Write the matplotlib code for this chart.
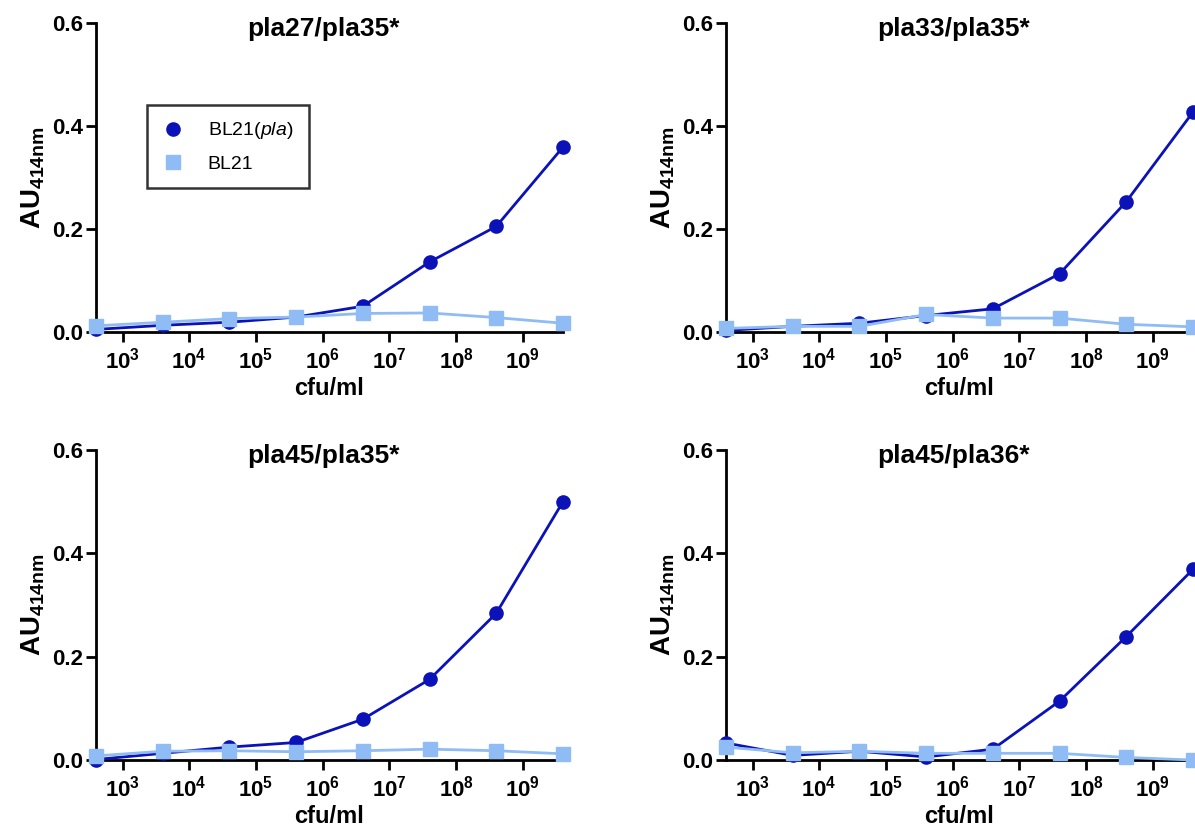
import matplotlib
matplotlib.use('Agg')
from matplotlib import pyplot as plt

plt.rcParams['font.family'] = ['Liberation Sans', 'DejaVu Sans']
plt.rcParams['mathtext.fontset'] = 'custom'
plt.rcParams['mathtext.rm'] = 'Liberation Sans'
plt.rcParams['mathtext.bf'] = 'Liberation Sans:bold'
plt.rcParams['mathtext.it'] = 'Liberation Sans:italic'

# cfu/ml dilution series
cfu = [4e2, 4e3, 4e4, 4e5, 4e6, 4e7, 4e8, 4e9]

titles = ['pla27/pla35*', 'pla33/pla35*', 'pla45/pla35*', 'pla45/pla36*']

# BL21(pla) absorbance
pla_27_35 = [0.005, 0.013, 0.019, 0.029, 0.050, 0.136, 0.205, 0.359]
pla_33_35 = [0.003, 0.011, 0.017, 0.032, 0.045, 0.113, 0.253, 0.427]
pla_45_35 = [0.001, 0.013, 0.025, 0.034, 0.079, 0.156, 0.284, 0.500]
pla_45_36 = [0.033, 0.009, 0.017, 0.006, 0.021, 0.114, 0.239, 0.369]

# BL21 control absorbance
ctl_27_35 = [0.012, 0.019, 0.026, 0.029, 0.036, 0.037, 0.028, 0.017]
ctl_33_35 = [0.007, 0.011, 0.011, 0.034, 0.027, 0.027, 0.015, 0.010]
ctl_45_35 = [0.008, 0.017, 0.018, 0.016, 0.018, 0.021, 0.018, 0.012]
ctl_45_36 = [0.025, 0.014, 0.017, 0.013, 0.013, 0.013, 0.005, 0.000]

pla_series = [pla_27_35, pla_33_35, pla_45_35, pla_45_36]
ctl_series = [ctl_27_35, ctl_33_35, ctl_45_35, ctl_45_36]

x_ticks = [1e3, 1e4, 1e5, 1e6, 1e7, 1e8, 1e9]
x_ticklabels = [r'$\mathbf{10^{3}}$', r'$\mathbf{10^{4}}$', r'$\mathbf{10^{5}}$',
                r'$\mathbf{10^{6}}$', r'$\mathbf{10^{7}}$', r'$\mathbf{10^{8}}$',
                r'$\mathbf{10^{9}}$']
y_ticks = [0.0, 0.2, 0.4, 0.6]
y_ticklabels = ['0.0', '0.2', '0.4', '0.6']

dark = '#0a12b8'
light = '#8fbcf4'

fig = plt.figure(figsize=(11.95, 8.3), dpi=100)
positions = [
    [0.0803, 0.600, 0.3908, 0.3723],
    [0.6075, 0.600, 0.3908, 0.3723],
    [0.0803, 0.0843, 0.3908, 0.3735],
    [0.6075, 0.0843, 0.3908, 0.3735],
]

for i in range(4):
    ax = fig.add_axes(positions[i])
    ax.plot(cfu, pla_series[i], color=dark, lw=2, marker='o', ms=9.5,
            label='BL21($\\mathit{pla}$)', clip_on=False, zorder=3)
    ax.plot(cfu, ctl_series[i], color=light, lw=2, marker='s', ms=9.5,
            label='BL21', clip_on=False, zorder=4)
    ax.set_xscale('log')
    ax.set_xlim(4e2, 4e9)
    ax.set_ylim(0, 0.6)
    ax.set_xticks(x_ticks)
    ax.set_xticklabels(x_ticklabels)
    ax.minorticks_off()
    ax.set_yticks(y_ticks)
    ax.set_yticklabels(y_ticklabels, fontweight='bold')
    ax.tick_params(axis='both', width=2, length=7, direction='out')
    ax.tick_params(axis='x', pad=4, labelsize=16)
    ax.tick_params(axis='y', pad=2, labelsize=16)
    for side in ['top', 'right']:
        ax.spines[side].set_visible(False)
    for side in ['left', 'bottom']:
        ax.spines[side].set_linewidth(2)
    ax.text(0.487, 0.958, titles[i], transform=ax.transAxes, ha='center',
            va='baseline', fontsize=19, fontweight='bold')
    ax.set_xlabel('cfu/ml', fontsize=17, fontweight='bold', labelpad=3)
    ax.set_ylabel(r'$\mathbf{AU_{414nm}}$', fontsize=20, labelpad=4)
    if i == 0:
        leg = ax.legend(loc='upper left', bbox_to_anchor=(0.11, 0.735),
                        fontsize=14, frameon=True, fancybox=False,
                        handlelength=1.0, handletextpad=1.3, borderpad=0.8,
                        labelspacing=0.7, borderaxespad=0)
        leg.get_frame().set_edgecolor('black')
        leg.get_frame().set_linewidth(1.8)
        for h in leg.legend_handles:
            h.set_linestyle('none')

fig.savefig('out.png', dpi=100)
